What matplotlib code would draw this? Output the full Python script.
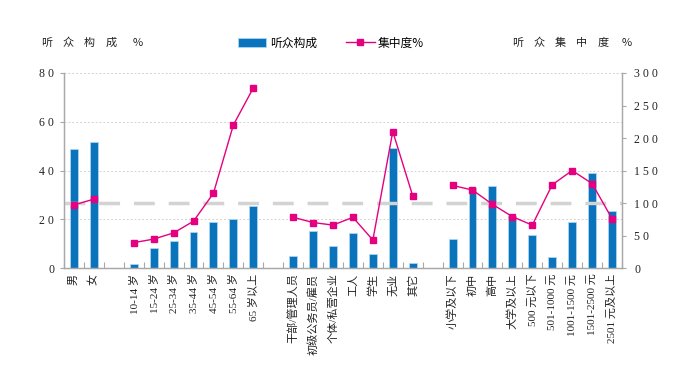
import numpy as np
import matplotlib
matplotlib.use("Agg")
import matplotlib.pyplot as plt
from matplotlib.lines import Line2D
from matplotlib.patches import Patch

plt.rcParams['font.family'] = ['Noto Sans CJK SC', 'DejaVu Sans']
label_fonts = ['Liberation Serif', 'Noto Sans CJK SC']

# listener profile (share %) and concentration index (%) per group
sex_labels = ["男", "女"]
sex_share = [48.7, 51.8]
sex_index = [97, 106]

age_labels = ["10-14 岁", "15-24 岁", "25-34 岁", "35-44 岁", "45-54 岁", "55-64 岁", "65 岁以上"]
age_share = [1.5, 8.2, 11.2, 14.7, 18.8, 20.3, 25.4]
age_index = [39, 44.5, 54, 72, 115, 220, 277]

job_labels = ["干部/管理人员", "初级公务员/雇员", "个体/私营企业", "工人", "学生", "无业", "其它"]
job_share = [5.0, 15.3, 9.1, 14.2, 5.6, 49.2, 2.2]
job_index = [78, 70, 66, 78, 43, 210, 111]

edu_inc_labels = ["小学及以下", "初中", "高中", "大学及以上", "500 元以下",
                  "501-1000 元", "1001-1500 元", "1501-2500 元", "2501 元及以上"]
edu_inc_share = [12.1, 33.0, 33.6, 21.4, 13.7, 4.4, 18.8, 39.0, 23.3]
edu_inc_index = [127, 120, 98, 79, 66, 128, 150, 130, 76]

avg_index = 100

# join the groups with an empty slot between them
labels, share, index = [], [], []
groups = [(sex_labels, sex_share, sex_index),
          (age_labels, age_share, age_index),
          (job_labels, job_share, job_index),
          (edu_inc_labels, edu_inc_share, edu_inc_index)]
for i, (lab, sh, ix) in enumerate(groups):
    if i > 0:
        labels.append("")
        share.append(np.nan)
        index.append(np.nan)
    labels += lab
    share += sh
    index += ix
x = np.arange(len(labels))

bar_color = "#0B72BC"
line_color = "#E5007F"
axis_grey = "#A8A8A8"

fig = plt.figure(figsize=(7, 3.8), dpi=100)
ax = fig.add_axes([0.0914, 0.2947, 0.7971, 0.5132])
ax2 = ax.twinx()

ax.bar(x, np.nan_to_num(share), width=0.4, color=bar_color,
       edgecolor="#A9D6F2", linewidth=0.6, zorder=2)
ax.set_xlim(-0.5, len(labels) - 0.5)
ax.set_ylim(0, 80)
ax.set_yticks([0, 20, 40, 60, 80])
ax.set_yticklabels([" ".join(str(v)) for v in [0, 20, 40, 60, 80]],
                   fontsize=8.5, family=label_fonts, color="#222222")
ax.yaxis.grid(True, linestyle=(0, (2, 2)), color="#D2D2D2", linewidth=0.7, zorder=0)
ax.set_axisbelow(True)

ax.set_xticks(x)
ax.set_xticklabels(labels, rotation=90, fontsize=8, va="top", ha="center",
                   family=label_fonts, color="#222222")
ax.tick_params(axis="x", length=0, pad=4)
ax.set_xticks(np.arange(-0.5, len(labels) + 0.5, 1), minor=True)
ax.tick_params(axis="x", which="minor", direction="in", length=4, color=axis_grey, width=0.8)
ax.tick_params(axis="y", length=3, color=axis_grey, pad=4)

ax2.axhline(avg_index, color="#D3D3D3", linewidth=2.5, linestyle=(0, (6, 4)), zorder=1)
ax2.plot(x, index, color=line_color, linewidth=1, marker="s", markersize=5,
         markeredgecolor=line_color, zorder=3)
ax2.set_ylim(0, 300)
ax2.set_yticks(range(0, 301, 50))
ax2.set_yticklabels([" ".join(str(v)) for v in range(0, 301, 50)],
                    fontsize=8.5, family=label_fonts, color="#222222")
ax2.tick_params(axis="y", length=3, color=axis_grey, pad=6)

for a in (ax, ax2):
    a.spines["top"].set_visible(False)
    for s in ("left", "right", "bottom"):
        a.spines[s].set_color(axis_grey)
        a.spines[s].set_linewidth(0.9)

# spaced-out axis titles
for xp, ch in zip([47, 68, 89, 111, 138], "听众构成%"):
    fig.text(xp / 700, 1 - 43 / 380, ch, fontsize=8, ha="center", va="center", color="#222222")
for xp, ch in zip([518, 539, 560, 582, 603, 627], "听众集中度%"):
    fig.text(xp / 700, 1 - 43 / 380, ch, fontsize=8, ha="center", va="center", color="#222222")

handles = [Patch(facecolor=bar_color, edgecolor="#A9D6F2", linewidth=0.6),
           Line2D([], [], color=line_color, linewidth=1, marker="s", markersize=5)]
fig.legend(handles, ["听众构成", "集中度%"], loc="center", bbox_to_anchor=(0.473, 1 - 43 / 380),
           ncol=2, frameon=False, fontsize=8.5, handlelength=2.4, handletextpad=0.3,
           columnspacing=2.5, borderaxespad=0)

fig.savefig("out.png", dpi=100)
